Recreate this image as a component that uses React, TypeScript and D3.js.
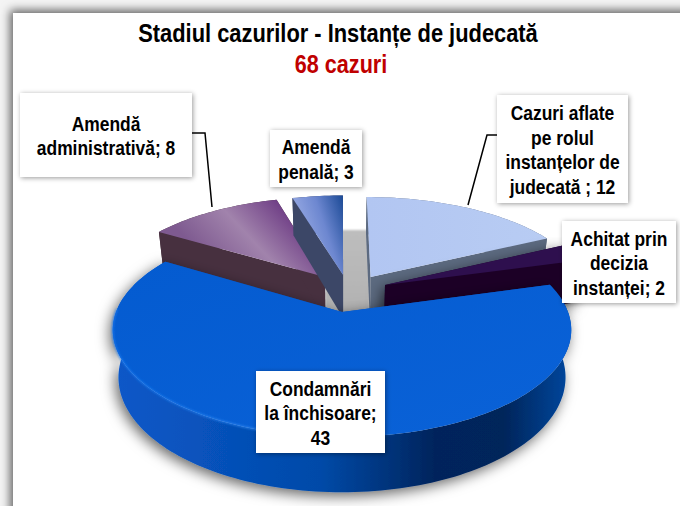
import React from 'react';
import * as d3 from 'd3';

const categories = ['Cazuri aflate pe rolul instanțelor de judecată ', 'Achitat prin decizia instanței', 'Condamnări la închisoare', 'Amendă administrativă', 'Amendă penală'];
const values = [12, 2, 43, 8, 3];
const explodeU = [0.134, 0.199, 0, -0.08, 0.005];
const explodeV = [0.357, 0.271, 0, 0.357, 0.38];
const topFills = ['url(#gBlueLight)', '#2e0f4e', 'url(#gBlueTop)', 'url(#gMauve)', 'url(#gSmall)'];
const faceFills = ['#5c6a80', '#1b0026', '#0a4fb0', '#47303f', '#3c4767'];
const rimFills = ['#5c6a80', '#1b0026', 'url(#gBlueWall)', '#47303f', '#3c4767'];
const drawOrder = [0, 1, 3, 4, 2];
const titleLines = ['Stadiul cazurilor - Instanțe de judecată', '68 cazuri'];

const labelBoxes = [
  { lines: ['Cazuri aflate', 'pe rolul', 'instanțelor de', 'judecată ; 12'], x: 497, y: 95, w: 131, h: 108 },
  { lines: ['Achitat prin', 'decizia', 'instanței; 2'], x: 562, y: 221, w: 114, h: 82 },
  { lines: ['Condamnări', 'la închisoare;', '43'], x: 256, y: 371, w: 129, h: 82 },
  { lines: ['Amendă', 'administrativă; 8'], x: 20, y: 93, w: 172, h: 84 },
  { lines: ['Amendă', 'penală; 3'], x: 270, y: 130, w: 92, h: 57 },
];

const CX = 342, CY = 312, R = 226, RY = 104, K = 0.168, DEPTH = 46;

function project(u: number, v: number, lower: boolean): [number, number] {
  const w = 1 + K * v;
  const spread = lower ? 0.975 : 1;
  return [CX + (spread * R * u) / w, CY - (RY * v) / w + (lower ? DEPTH / w : 0)];
}

const line = d3.line();

export default function App() {
  const arcs = d3.pie<number>().sort(null)(values);

  const slice = (i: number) => {
    const a = arcs[i];
    const ou = explodeU[i], ov = explodeV[i];
    const at = (t: number, r: number, lower: boolean) => project(ou + r * Math.sin(t), ov + r * Math.cos(t), lower);
    const n = Math.max(8, Math.round((a.endAngle - a.startAngle) * 40));
    const ts = d3.range(n + 1).map((k) => a.startAngle + ((a.endAngle - a.startAngle) * k) / n);
    const top = line([at(0, 0, false), ...ts.map((t) => at(t, 1, false))])! + 'Z';
    const rim = line([...ts.map((t) => at(t, 1, false)), ...ts.slice().reverse().map((t) => at(t, 1, true))])! + 'Z';
    const face = (t: number) => line([at(0, 0, false), at(t, 1, false), at(t, 1, true), at(0, 0, true)])! + 'Z';
    const frontTs = ts.filter((t) => t > 1.9 && t < 4.75);
    const edge = line(frontTs.map((t) => at(t, 1, false)))!;
    return { top, rim, startFace: face(a.startAngle), endFace: face(a.endAngle), edge };
  };

  const font = 'Liberation Sans, Arial, sans-serif';
  const text = (s: string, x: number, y: number, size: number, fill: string, sx: number, key: string) => (
    <text key={key} transform={`translate(${x},${y}) scale(${sx},1)`} textAnchor="middle" fontFamily={font} fontWeight="700" fontSize={size} fill={fill}>{s}</text>
  );

  const leaders = ['M191,133 L205,133 L212,207', 'M498,135 L487,135 L468,205'];

  return (
    <svg width={680} height={506} style={{ position: 'absolute', left: 0, top: 0 }}>
      <defs>
        <filter id="frame" x="-10%" y="-10%" width="120%" height="120%">
          <feDropShadow dx="-3" dy="-3" stdDeviation="5" floodColor="#000" floodOpacity="0.6" />
        </filter>
        <filter id="boxS" x="-20%" y="-20%" width="140%" height="140%">
          <feDropShadow dx="1" dy="1" stdDeviation="2.5" floodColor="#000" floodOpacity="0.4" />
        </filter>
        <filter id="pieS" x="-10%" y="-10%" width="120%" height="120%">
          <feDropShadow dx="-3" dy="4" stdDeviation="7" floodColor="#000" floodOpacity="0.6" />
        </filter>
        <filter id="soft" x="-20%" y="-20%" width="140%" height="140%">
          <feGaussianBlur stdDeviation="0.8" />
        </filter>
        <linearGradient id="gBlueLight" x1="0" y1="0" x2="1" y2="0">
          <stop offset="0" stopColor="#b2c6f2" /><stop offset="1" stopColor="#b8ccf3" />
        </linearGradient>
        <linearGradient id="gBlueTop" x1="0" y1="0" x2="1" y2="1">
          <stop offset="0" stopColor="#045bd0" /><stop offset="1" stopColor="#0a62d8" />
        </linearGradient>
        <linearGradient id="gBlueWall" gradientUnits="userSpaceOnUse" x1="115" y1="0" x2="572" y2="0">
          <stop offset="0" stopColor="#0a58c8" /><stop offset="0.25" stopColor="#0650b8" /><stop offset="0.45" stopColor="#004aa8" /><stop offset="0.7" stopColor="#00245c" /><stop offset="0.85" stopColor="#00255a" /><stop offset="1" stopColor="#0048a0" />
        </linearGradient>
        <linearGradient id="gMauve" gradientUnits="userSpaceOnUse" x1="285" y1="205" x2="215" y2="270">
          <stop offset="0" stopColor="#6d3b84" /><stop offset="0.5" stopColor="#a183ac" /><stop offset="1" stopColor="#7e5a90" />
        </linearGradient>
        <linearGradient id="gSmall" gradientUnits="userSpaceOnUse" x1="300" y1="220" x2="345" y2="205">
          <stop offset="0" stopColor="#90a4e0" /><stop offset="0.45" stopColor="#6d87d0" /><stop offset="1" stopColor="#1e4c98" />
        </linearGradient>
        <linearGradient id="gGray" x1="0" y1="0" x2="0" y2="1">
          <stop offset="0" stopColor="#bdbdbd" /><stop offset="1" stopColor="#b2b2b2" />
        </linearGradient>
        <linearGradient id="gEdge" gradientUnits="userSpaceOnUse" x1="115" y1="0" x2="400" y2="0">
          <stop offset="0" stopColor="#1a78f0" /><stop offset="0.5" stopColor="#2f86f0" /><stop offset="0.8" stopColor="#2f86f0" /><stop offset="1" stopColor="#2f86f0" stopOpacity="0" />
        </linearGradient>
      </defs>

      <rect width={680} height={506} fill="#f4f4f4" />
      <rect x={13} y={13} width={720} height={540} fill="#fff" filter="url(#frame)" />

      {text(titleLines[0], 338, 42, 25, '#000', 0.875, 't0')}
      {text(titleLines[1], 341, 73, 25, '#c00000', 0.865, 't1')}

      <rect x={325} y={230} width={45} height={84} fill="url(#gGray)" filter="url(#soft)" />

      {leaders.map((d, i) => <path key={i} d={d} fill="none" stroke="#000" strokeWidth={1.5} />)}

      {drawOrder.map((i) => {
        const s = slice(i);
        return (
          <g key={categories[i]}>
            <g filter={i === 2 || i === 1 ? 'url(#pieS)' : undefined}>
              <path d={s.rim} fill={rimFills[i]} />
              <path d={s.startFace} fill={faceFills[i]} />
              <path d={s.endFace} fill={faceFills[i]} />
            </g>
            <path d={s.top} fill={topFills[i]} />
            {i === 2 && <path d={s.edge} fill="none" stroke="url(#gEdge)" strokeWidth={1.5} filter="url(#soft)" />}
          </g>
        );
      })}

      {labelBoxes.map((b, i) => (
        <g key={i}>
          <rect x={b.x} y={b.y} width={b.w} height={b.h} fill="#fff" filter="url(#boxS)" />
          {b.lines.map((l, j) => text(l, b.x + b.w / 2, b.y + b.h / 2 + (j - (b.lines.length - 1) / 2) * 24.5 + 8, 21, '#000', 0.83, `l${i}-${j}`))}
        </g>
      ))}
    </svg>
  );
}
